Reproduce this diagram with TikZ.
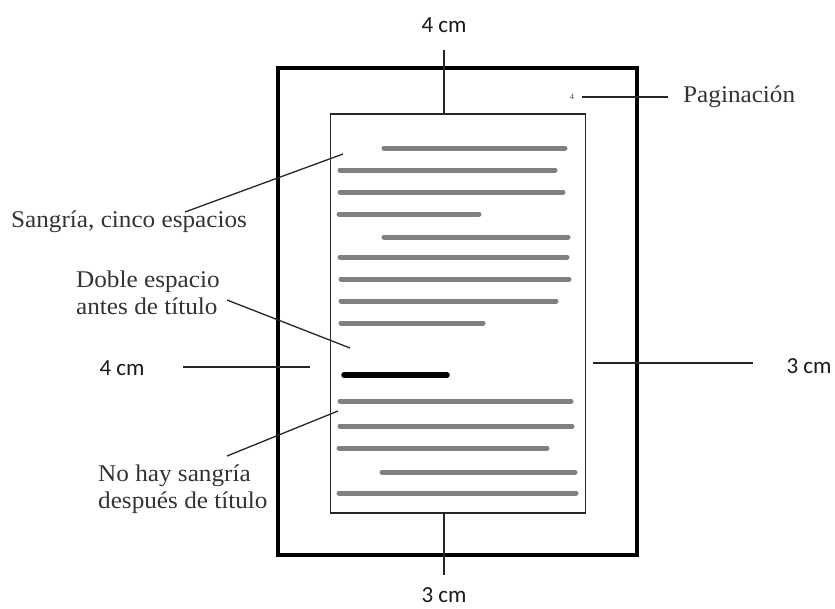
\documentclass[tikz,border=0pt]{standalone}
\usepackage{fontspec}
\newfontfamily\serifA[FakeStretch=1.05]{Liberation Serif}
\newfontfamily\sansA{Carlito}
\begin{document}
\begin{tikzpicture}[x=1pt,y=-1pt,
  txtline/.style={draw=black!50, line width=5pt, line cap=round},
  titleline/.style={draw=black, line width=5.5pt, line cap=round},
  tick/.style={draw=black!85, line width=1.8pt},
  leader/.style={draw=black!85, line width=1.3pt},
  serlabel/.style={font=\serifA\fontsize{24}{27}\selectfont, text=black!80, inner sep=0pt, align=left},
  cmlabel/.style={font=\sansA\fontsize{23}{26}\selectfont, text=black!90, inner sep=0pt}]
\useasboundingbox (0,0) rectangle (835,608);
% outer page and text area
\node[draw=black, line width=4pt, minimum width=359pt, minimum height=487pt, inner sep=0pt] (outer) at (457.5,311.5) {};
\node[draw=black!85, line width=1.5pt, minimum width=255pt, minimum height=399pt, inner sep=0pt] (inner) at (458,313.5) {};
% text lines
\draw[txtline] (384,148) -- (565,148);
\draw[txtline] (340,170) -- (555,170);
\draw[txtline] (340,192) -- (563,192);
\draw[txtline] (339,214) -- (479,214);
\draw[txtline] (384,237) -- (568,237);
\draw[txtline] (340,257) -- (567,257);
\draw[txtline] (341,279) -- (569,279);
\draw[txtline] (341,301) -- (556,301);
\draw[txtline] (341,323) -- (483,323);
\draw[titleline] (344,375) -- (447,375);
\draw[txtline] (340,401) -- (571,401);
\draw[txtline] (340,426) -- (572,426);
\draw[txtline] (339,448) -- (547,448);
\draw[txtline] (382,472) -- (575,472);
\draw[txtline] (339,493) -- (576,493);
% margin labels
\node[cmlabel] (topcm) at (444,25) {4 cm};
\node[cmlabel] (botcm) at (444,595) {3 cm};
\node[cmlabel] (leftcm) at (122,368) {4 cm};
\node[cmlabel] (rightcm) at (809,366) {3 cm};
\coordinate (topA) at (444,50);
\coordinate (botA) at (444,575);
\coordinate (leftA) at (183,367);
\coordinate (leftB) at (310,367);
\coordinate (rightA) at (593,363);
\coordinate (rightB) at (753,363);
\draw[tick] (topA) -- (inner.north -| topA);
\draw[tick] (inner.south -| botA) -- (botA);
\draw[tick] (leftA) -- (leftB);
\draw[tick] (rightA) -- (rightB);
% pagination
\node[font=\serifA\fontsize{8}{8}\selectfont, text=black!70, inner sep=0pt] (pnum) at (572,97) {4};
\node[serlabel, anchor=west] (pag) at (683,97) {Paginación};
\coordinate (pagA) at (582,97);
\coordinate (pagB) at (668,97);
\draw[leader] (pagA) -- (pagB);
% annotations
\node[serlabel, anchor=west] (sangria) at (11,222) {Sangría, cinco espacios};
\node[serlabel, anchor=west] (doble) at (76,293) {Doble espacio\\antes de título};
\node[serlabel, anchor=west] (nohay) at (98,489) {No hay sangría\\después de título};
\coordinate (sangA) at (185,212);
\coordinate (sangB) at (343,154);
\coordinate (dobA) at (227,300);
\coordinate (dobB) at (350,348);
\coordinate (noA) at (227,456);
\coordinate (noB) at (338,411);
\draw[leader] (sangA) -- (sangB);
\draw[leader] (dobA) -- (dobB);
\draw[leader] (noA) -- (noB);
\end{tikzpicture}
\end{document}
